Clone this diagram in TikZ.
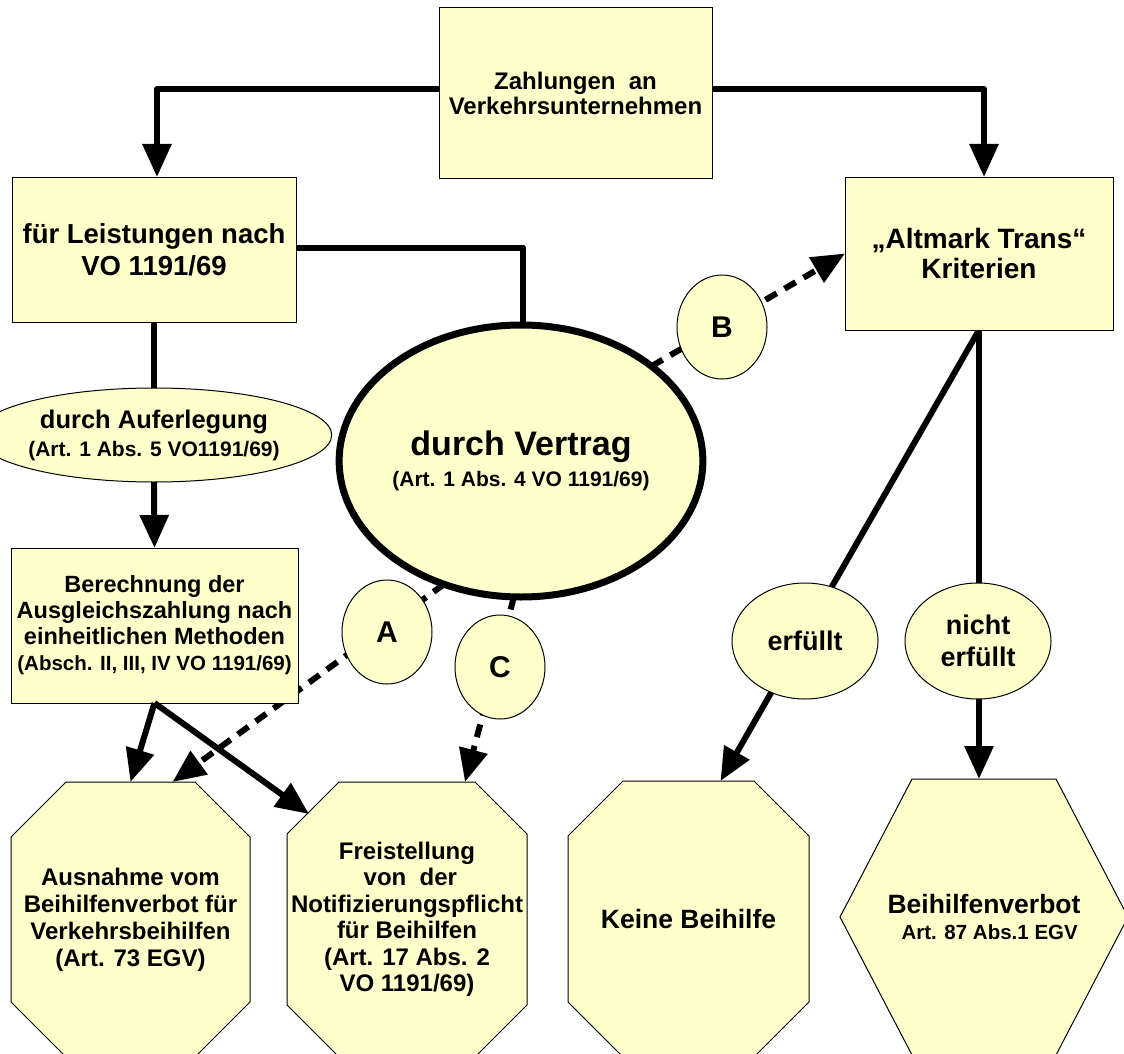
\documentclass[tikz,border=0pt]{standalone}
\usepackage{fontspec}
\setmainfont{Liberation Sans}
\usetikzlibrary{arrows.meta,calc,shapes.geometric}
\definecolor{yfill}{HTML}{FFFFCC}
\pgfdeclarelayer{bg}
\pgfdeclarelayer{mid}
\pgfsetlayers{bg,mid,main}
\newcommand\fsz[2]{\fontsize{#1}{#2}\selectfont\bfseries}
\newcommand\octpath[2]{\filldraw[shp] ($(#1.north west)+(#2,0)$) -- ($(#1.north east)+(-#2,0)$) -- ($(#1.north east)+(0,#2)$) -- ($(#1.south east)+(0,-#2)$) -- ($(#1.south east)+(-#2,0)$) -- ($(#1.south west)+(#2,0)$) -- ($(#1.south west)+(0,-#2)$) -- ($(#1.north west)+(0,#2)$) -- cycle;}
\tikzset{
  box/.style={rectangle, draw=black, line width=1pt, fill=yfill, align=center, inner sep=0pt, outer sep=0pt},
  ell/.style={ellipse, draw=black, line width=1pt, fill=yfill, align=center, inner sep=0pt, outer sep=0pt},
  plain/.style={rectangle, align=center, inner sep=0pt, outer sep=0pt},
  shp/.style={draw=black, line width=1pt, fill=yfill, line join=miter},
  conn/.style={line width=6pt, line join=round},
  arrowed/.style={-{Triangle[length=33pt,width=28pt]}},
  dconn/.style={conn, dash pattern=on 13pt off 9pt},
}
\begin{document}
\begin{tikzpicture}[x=1pt,y=-1pt]
\useasboundingbox (0,0) rectangle (1124,1054);
\begin{pgfonlayer}{bg}
\fill[white] (0,0) rectangle (1124,1054);
\end{pgfonlayer}

% boxes
\node[box, minimum width=273pt, minimum height=170pt, font=\fsz{24}{25}] (zahl) at (575.5,93) {Zahlungen\ \ an\\Verkehrsunternehmen};
\node[box, minimum width=284pt, minimum height=145pt, font=\fsz{27.5}{32}] (leist) at (154,249.5) {für Leistungen nach\\VO 1191/69};
\node[box, minimum width=268pt, minimum height=153pt, font=\fsz{28}{30}] (alt) at (979,253.5) {„Altmark Trans“\\Kriterien};
\node[ell, minimum width=281pt, minimum height=94pt, font=\fsz{25.5}{28}] (aufer) at (154,435) {durch Auferlegung\\{\fsz{21}{28}(Art. 1 Abs. 5 VO1191/69)}};
\node[box, minimum width=287pt, minimum height=155pt, font=\fsz{23.5}{26}] (berech) at (154.5,625.5) {Berechnung der\\Ausgleichszahlung nach\\einheitlichen Methoden\\{\fsz{20.5}{26}(Absch. II, III, IV VO 1191/69)}};
\node[ell, line width=7pt, minimum width=287pt, minimum height=272pt, font=\fsz{34}{31}] (vert) at (521,461) {durch Vertrag\\{\fsz{21}{31}(Art. 1 Abs. 4 VO 1191/69)}};

% letter circles
\node[ell, minimum width=90pt, minimum height=104pt, font=\fsz{30}{32}] (ca) at (387,632) {A};
\node[ell, minimum width=90pt, minimum height=104pt, font=\fsz{30}{32}] (cb) at (722,327) {B};
\node[ell, minimum width=90pt, minimum height=104pt, font=\fsz{30}{32}] (cc) at (500,667) {C};

% erfuellt
\node[ell, minimum width=146pt, minimum height=116pt, font=\fsz{27}{32}] (erf) at (805,641) {erfüllt};
\node[ell, minimum width=146pt, minimum height=116pt, font=\fsz{27}{32}] (nerf) at (978,641) {nicht\\erfüllt};

% end shapes
\node[plain, minimum width=239pt, minimum height=275pt, font=\fsz{24}{27}] (ausn) at (130.5,919.5) {Ausnahme vom\\Beihilfenverbot für\\Verkehrsbeihilfen\\(Art. 73 EGV)};
\node[plain, minimum width=240pt, minimum height=275pt, font=\fsz{24}{26.5}] (frei) at (407,919.5) {Freistellung\\\ von\ \ der\\Notifizierungspflicht\\für Beihilfen\\(Art. 17 Abs. 2\\VO 1191/69)};
\node[plain, minimum width=241pt, minimum height=276pt, font=\fsz{26.5}{30}] (keine) at (688.5,919) {Keine Beihilfe};
\node[plain, minimum width=288pt, minimum height=276pt, font=\fsz{26.5}{26}] (hex) at (984,917) {Beihilfenverbot\\{\fsz{20.5}{26}\ \ Art. 87 Abs.1 EGV}};

\begin{pgfonlayer}{bg}
\octpath{ausn}{55}
\octpath{frei}{52}
\octpath{keine}{55}
\filldraw[shp] ($(hex.north west)+(72,0)$) -- ($(hex.north east)+(-72,0)$) -- (hex.east) -- ($(hex.south east)+(-72,0)$) -- ($(hex.south west)+(72,0)$) -- (hex.west) -- cycle;
\end{pgfonlayer}

% solid connectors
\draw[conn, arrowed] ([yshift=4pt]zahl.west) -| ([xshift=3pt]leist.north);
\draw[conn, arrowed] ([yshift=4pt]zahl.east) -| ([xshift=5pt]alt.north);
\draw[conn] ([yshift=2pt]leist.east) -| ([xshift=2pt]vert.north);
\draw[conn] (leist.south) -- (aufer.north);
\draw[conn, arrowed] (aufer.south) -- (berech.north);
\draw[conn, arrowed] (berech.south) -- (ausn.north);
\draw[conn, arrowed] (berech.south) -- ($(frei.north west)+(22,32)$);

% connectors passing behind the small nodes
\begin{pgfonlayer}{mid}
\draw[dconn, arrowed] (vert.238) -- ($(ausn.north)+(42,0)$);
\draw[dconn, arrowed] (vert.267) -- ($(frei.north)+(58,0)$);
\draw[dconn, arrowed] (vert.36) -- (alt.west);
\draw[conn, arrowed] (alt.south) -- ($(keine.north)+(32,0)$);
\draw[conn, arrowed] (alt.south) -- (alt.south |- hex.north);
\end{pgfonlayer}
\end{tikzpicture}
\end{document}
